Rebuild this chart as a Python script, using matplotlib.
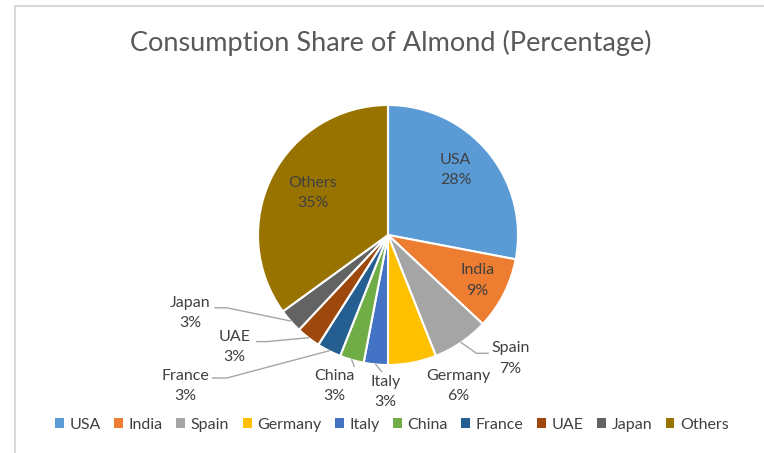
import numpy as np
import matplotlib.pyplot as plt
from matplotlib.patches import Patch

# almond consumption share by country
countries = ["USA", "India", "Spain", "Germany", "Italy", "China",
             "France", "UAE", "Japan", "Others"]
shares = [28, 9, 7, 6, 3, 3, 3, 3, 3, 35]
colors = ["#5B9BD5", "#ED7D31", "#A5A5A5", "#FFC000", "#4472C4",
          "#70AD47", "#255E91", "#9E480E", "#636363", "#997300"]

# label centres, in pie-radius units (centre = 0,0)
label_xy = {
    "USA": (0.52, 0.50), "India": (0.69, -0.35), "Spain": (0.94, -0.95),
    "Germany": (0.54, -1.16), "Italy": (-0.02, -1.21), "China": (-0.41, -1.16),
    "France": (-1.56, -1.16), "UAE": (-1.18, -0.86), "Japan": (-1.52, -0.60),
    "Others": (-0.58, 0.32),
}
# leader line elbow / end points
leaders = {
    "Spain": [(0.68, -0.91), (0.77, -0.91)],
    "Italy": [(-0.05, -1.05)],
    "China": [(-0.26, -1.01)],
    "France": [(-1.24, -1.10), (-1.35, -1.10)],
    "UAE": [(-0.93, -0.82), (-1.01, -0.82)],
    "Japan": [(-1.24, -0.56), (-1.33, -0.56)],
}

plt.rcParams['font.family'] = ['Lato', 'DejaVu Sans']
txt_col = "#404040"

fig = plt.figure(figsize=(7.64, 4.53), dpi=100)
ax = fig.add_axes([0, 0, 1, 1])
R = 130.0
cx, cy = 388, 235

wedges, _ = ax.pie(shares, colors=colors, startangle=90, counterclock=False,
                   radius=1.0, wedgeprops=dict(edgecolor="white", linewidth=1.5))
ax.set_xlim(-cx / R, (764 - cx) / R)
ax.set_ylim(-(453 - cy) / R, cy / R)
ax.set_aspect('auto')
ax.axis('off')

for w, name, val in zip(wedges, countries, shares):
    x, y = label_xy[name]
    ax.text(x, y, f"{name}\n{val}%", ha="center", va="center", fontsize=11.5,
            color=txt_col, linespacing=1.55)
    if name in leaders:
        mid = np.deg2rad((w.theta1 + w.theta2) / 2)
        pts = [(np.cos(mid), np.sin(mid))] + leaders[name]
        xs, ys = zip(*pts)
        ax.plot(xs, ys, color="#A6A6A6", lw=1)

fig.text(0.511, 0.905, "Consumption Share of Almond (Percentage)",
         ha="center", va="center", fontsize=19.5, color="#595959")

handles = [Patch(facecolor=c, edgecolor="none") for c in colors]
fig.legend(handles, countries, loc="center", bbox_to_anchor=(0.513, 0.062),
           ncol=10, frameon=False, fontsize=11.5, handlelength=0.55,
           handleheight=0.55, handletextpad=0.35, columnspacing=0.85,
           labelcolor=txt_col)

# light chart border (top and left visible)
fig.add_artist(plt.Line2D([15 / 764, 1], [1 - 6 / 453, 1 - 6 / 453],
                          color="#D9D9D9", lw=1.5, transform=fig.transFigure))
fig.add_artist(plt.Line2D([15 / 764, 15 / 764], [0, 1 - 6 / 453],
                          color="#D9D9D9", lw=1.5, transform=fig.transFigure))

fig.savefig("out.png", dpi=100)
